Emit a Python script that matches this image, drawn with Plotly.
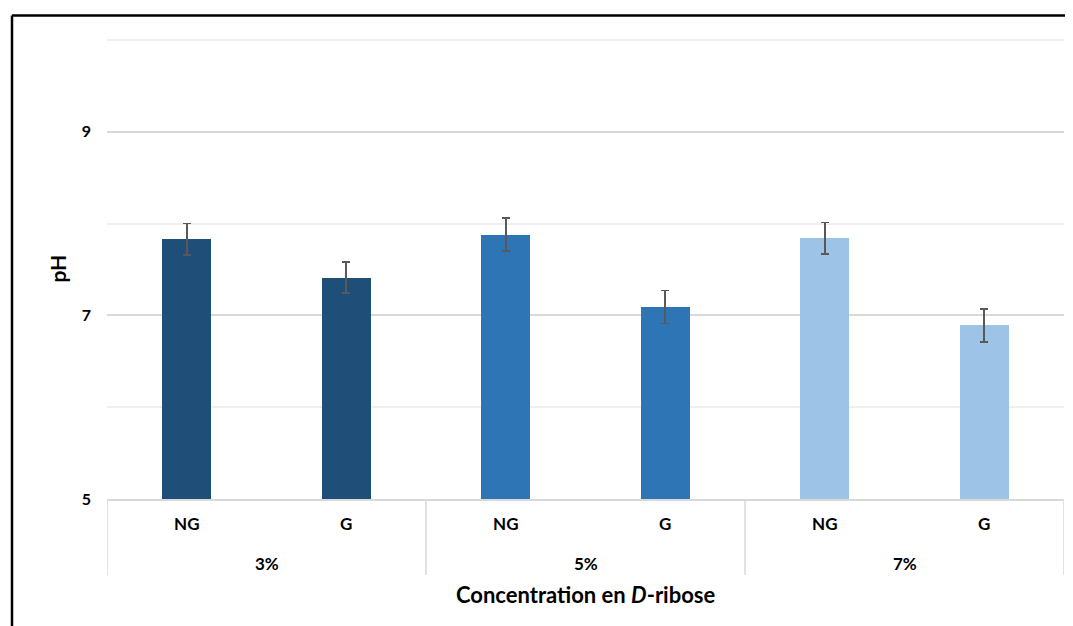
import plotly.graph_objects as go

concentrations = ["3%", "3%", "5%", "5%", "7%", "7%"]
groups = ["NG", "G", "NG", "G", "NG", "G"]
ph_values = [7.83, 7.41, 7.88, 7.09, 7.84, 6.89]
ph_errors = [0.17, 0.17, 0.18, 0.18, 0.17, 0.18]
bar_colors = ["#1F4E79", "#1F4E79", "#2E75B6", "#2E75B6", "#9DC3E6", "#9DC3E6"]
y_base = 5
y_range = [5, 10.02]

FONT = "Lato"
categories = [f"{c} {g}" for c, g in zip(concentrations, groups)]
outer = list(dict.fromkeys(concentrations))

# page body has an 8px margin: figure coords = screen coords - 8
PW, PH = 957, 461  # plot area size in px

fig = go.Figure()
fig.add_trace(go.Bar(
    x=categories,
    y=[v - y_base for v in ph_values],
    base=y_base,
    marker=dict(color=bar_colors, line=dict(width=0)),
    width=0.31,
    error_y=dict(type="data", array=ph_errors, visible=True,
                 color="#595959", thickness=1.6, width=4),
    showlegend=False,
))

fig.update_layout(
    width=1073, height=626,
    margin=dict(l=99, r=17, t=30, b=135),
    paper_bgcolor="white", plot_bgcolor="white",
    font=dict(family=FONT, color="#000000", size=16),
    bargap=0,
)
fig.update_xaxes(
    type="category", automargin=False,
    range=[-0.5, len(categories) - 0.5],
    tickvals=categories, ticktext=groups,
    showline=True, linecolor="#D9D9D9", linewidth=1.5,
    ticks="", ticklabelstandoff=9,
    tickfont=dict(family=FONT, size=17, color="#000000", weight="bold"),
    showgrid=False,
)
fig.update_yaxes(
    automargin=False,
    range=y_range,
    tick0=5, dtick=2,
    showgrid=True, gridcolor="#D9D9D9", gridwidth=1.5,
    zeroline=False, showline=False, ticks="",
    ticklabelstandoff=15,
    minor=dict(dtick=1, tick0=5, showgrid=True, gridcolor="#EFEFEF", gridwidth=1.5),
    tickfont=dict(family=FONT, size=16, color="#000000", weight="bold"),
)

# group dividers and outer category labels
n_per = len(categories) // len(outer)
for i in range(len(outer) + 1):
    xb = i * n_per - 0.5
    fig.add_shape(type="line", xref="x", yref="paper",
                  x0=xb, x1=xb, y0=0, y1=-76 / PH,
                  line=dict(color="#D9D9D9", width=1.5))
for i, lab in enumerate(outer):
    fig.add_annotation(x=i * n_per + (n_per - 1) / 2, xref="x",
                       y=-64 / PH, yref="paper", yanchor="middle",
                       text=lab, showarrow=False,
                       font=dict(family=FONT, size=17, color="#000000", weight="bold"))

# axis titles
fig.add_annotation(x=0.5, xref="paper", y=-95 / PH, yref="paper", yanchor="middle",
                   text="Concentration en <i>D</i>-ribose", showarrow=False,
                   font=dict(family=FONT, size=22, color="#000000", weight="bold"))
fig.add_annotation(x=-50 / PW, xref="paper", y=0.5, yref="paper",
                   xanchor="center", yanchor="middle", textangle=-90,
                   text="pH", showarrow=False,
                   font=dict(family=FONT, size=21, color="#000000", weight="bold"))

# outer frame of the chart image (top and left edges)
top = 483.5 / PH
left = -95 / PW
fig.add_shape(type="line", xref="paper", yref="paper",
              x0=left, x1=1.05, y0=top, y1=top,
              line=dict(color="black", width=2.5))
fig.add_shape(type="line", xref="paper", yref="paper",
              x0=left, x1=left, y0=top, y1=-0.35,
              line=dict(color="black", width=2.5))

fig.write_html("out.html")
